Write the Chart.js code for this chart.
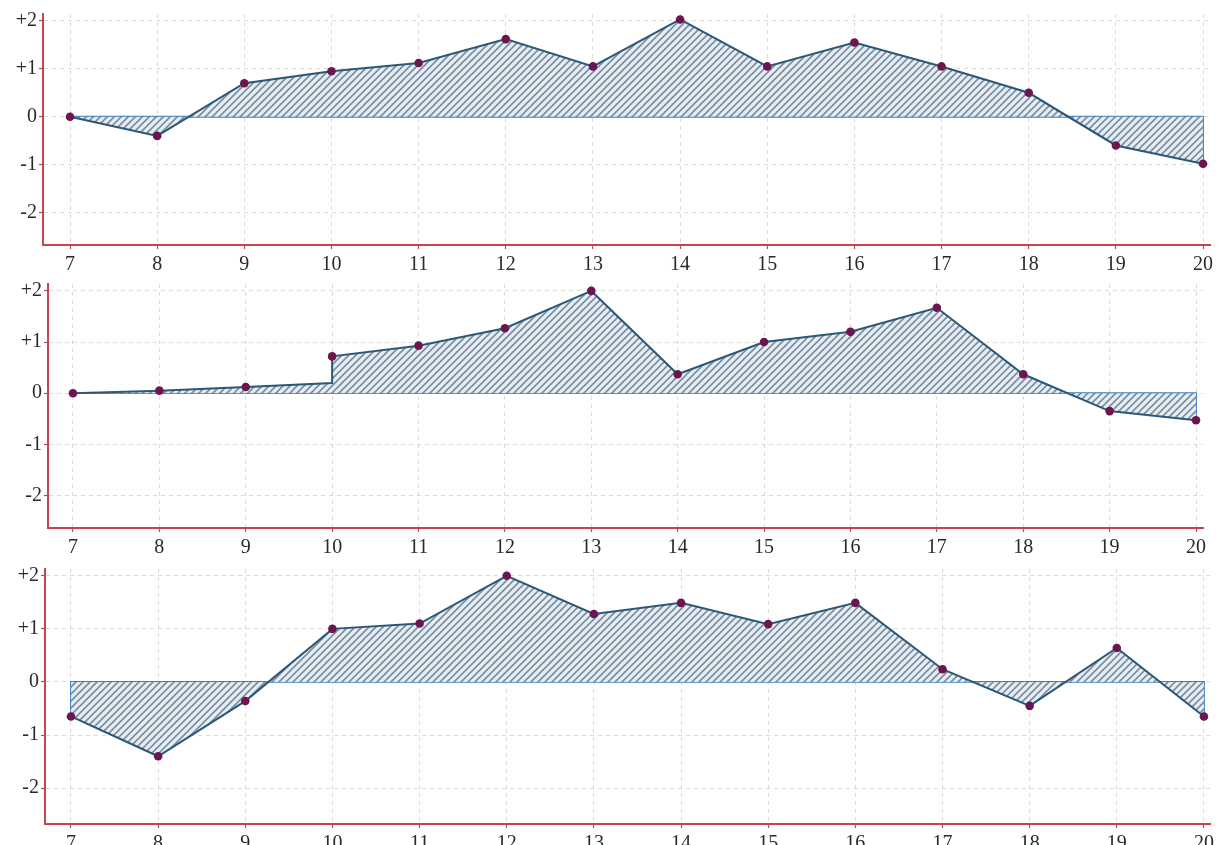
<!DOCTYPE html>
<html>
<head>
<meta charset="utf-8">
<script src="https://cdn.jsdelivr.net/npm/chart.js@4/dist/chart.umd.min.js"></script>
<style>
  html, body { margin: 0; padding: 0; background: #ffffff; }
  body { width: 1218px; height: 845px; position: relative; overflow: hidden; }
  .panel { position: absolute; left: 0; width: 1218px; }
</style>
</head>
<body>
<div class="panel" style="top:0px;height:280px"><canvas id="c1"></canvas></div>
<div class="panel" style="top:270px;height:285px"><canvas id="c2"></canvas></div>
<div class="panel" style="top:555px;height:290px"><canvas id="c3"></canvas></div>
<script>
// Categories along the horizontal axis
const xCategories = [7, 8, 9, 10, 11, 12, 13, 14, 15, 16, 17, 18, 19, 20];
// Vertical tick labels
const yTickValues = [-2, -1, 0, 1, 2];
const yTickLabels = ['-2', '-1', '0', '+1', '+2'];

// Deviation series, one per panel
const seriesTop    = [0, -0.4, 0.7, 0.95, 1.12, 1.62, 1.05, 2.03, 1.05, 1.55, 1.05, 0.5, -0.6, -0.98];
const seriesMiddle = [0, 0.05, 0.12, 0.72, 0.93, 1.27, 2.0, 0.37, 1.0, 1.2, 1.67, 0.37, -0.35, -0.53];
const seriesBottom = [-0.65, -1.4, -0.36, 1.0, 1.1, 2.0, 1.28, 1.49, 1.09, 1.49, 0.24, -0.45, 0.64, -0.65];
// Middle series reaches this level at x = 10 before jumping up
const middleStep = [10, 0.2];

const AXIS_RED = '#c2454f';
const LINE_BLUE = '#2c5877';
const ZERO_BLUE = '#3a7fc2';
const MARKER = '#6b1650';
const GRID = 'rgba(200,195,180,0.6)';
const FONT = { family: "'Liberation Serif', 'DejaVu Serif', serif", size: 20 };

function hatchPattern(ctx) {
  const s = 7;
  const t = document.createElement('canvas');
  t.width = s; t.height = s;
  const g = t.getContext('2d');
  g.fillStyle = 'rgba(222,238,250,0.95)';
  g.fillRect(0, 0, s, s);
  g.strokeStyle = '#868a93';
  g.lineWidth = 1.6;
  g.beginPath();
  g.moveTo(-1, s + 1); g.lineTo(s + 1, -1);
  g.moveTo(-1, 1); g.lineTo(1, -1);
  g.moveTo(s - 1, s + 1); g.lineTo(s + 1, s - 1);
  g.stroke();
  return ctx.createPattern(t, 'repeat');
}

function buildPanel(id, values, geom, step) {
  const canvas = document.getElementById(id);
  const ctx = canvas.getContext('2d');
  const pts = [];
  const radii = [];
  xCategories.forEach((x, i) => {
    if (step && step[0] === x) { pts.push({ x: x, y: step[1] }); radii.push(0); }
    pts.push({ x: x, y: values[i] });
    radii.push(4.3);
  });
  const first = values[0], last = values[values.length - 1];
  const x0 = xCategories[0], x1 = xCategories[xCategories.length - 1];
  const baseline = [{ x: x0, y: first }, { x: x0, y: 0 }, { x: x1, y: 0 }, { x: x1, y: last }];

  return new Chart(ctx, {
    type: 'line',
    data: {
      datasets: [
        {
          data: pts,
          borderColor: LINE_BLUE,
          borderWidth: 2,
          backgroundColor: hatchPattern(ctx),
          fill: 'origin',
          pointRadius: radii,
          pointBackgroundColor: MARKER,
          pointBorderColor: MARKER,
          pointBorderWidth: 0,
          tension: 0,
          order: 2
        },
        {
          data: baseline,
          borderColor: ZERO_BLUE,
          borderWidth: 1.8,
          pointRadius: 0,
          fill: false,
          tension: 0,
          order: 3
        }
      ]
    },
    options: {
      responsive: true,
      maintainAspectRatio: false,
      animation: false,
      events: [],
      layout: { padding: { top: geom.top, right: geom.right, left: 0, bottom: 0 } },
      plugins: { legend: { display: false }, tooltip: { enabled: false } },
      scales: {
        x: {
          type: 'linear',
          min: geom.xmin, max: geom.xmax,
          afterBuildTicks: s => { s.ticks = xCategories.map(v => ({ value: v })); },
          afterFit: s => { s.height = geom.xh; },
          ticks: { color: '#2a2a2a', font: FONT, padding: 4, maxRotation: 0, autoSkip: false,
                   callback: v => String(v) },
          grid: { color: GRID, lineWidth: 1, drawTicks: true, tickLength: 4, tickColor: AXIS_RED, tickWidth: 1.2 },
          border: { display: true, color: AXIS_RED, width: 2, dash: [4, 4] }
        },
        y: {
          type: 'linear',
          min: geom.ymin, max: geom.ymax,
          afterBuildTicks: s => { s.ticks = yTickValues.map(v => ({ value: v })); },
          afterFit: s => { s.width = geom.yw; },
          ticks: { color: '#2a2a2a', font: FONT, padding: 2,
                   callback: v => yTickLabels[yTickValues.indexOf(v)] },
          grid: { color: GRID, lineWidth: 1, drawTicks: true, tickLength: 4, tickColor: AXIS_RED, tickWidth: 1.2 },
          border: { display: true, color: AXIS_RED, width: 2, dash: [4, 4] }
        }
      }
    }
  });
}

buildPanel('c1', seriesTop,
  { top: 10, right: 8, xh: 35, yw: 43, xmin: 6.690, xmax: 20.080, ymin: -2.677, ymax: 2.144 });
buildPanel('c2', seriesMiddle,
  { top: 10, right: 15, xh: 27, yw: 48, xmin: 6.711, xmax: 20.081, ymin: -2.635, ymax: 2.135 },
  middleStep);
buildPanel('c3', seriesBottom,
  { top: 6, right: 7, xh: 21, yw: 45, xmin: 6.702, xmax: 20.080, ymin: -2.676, ymax: 2.128 });
</script>
</body>
</html>
